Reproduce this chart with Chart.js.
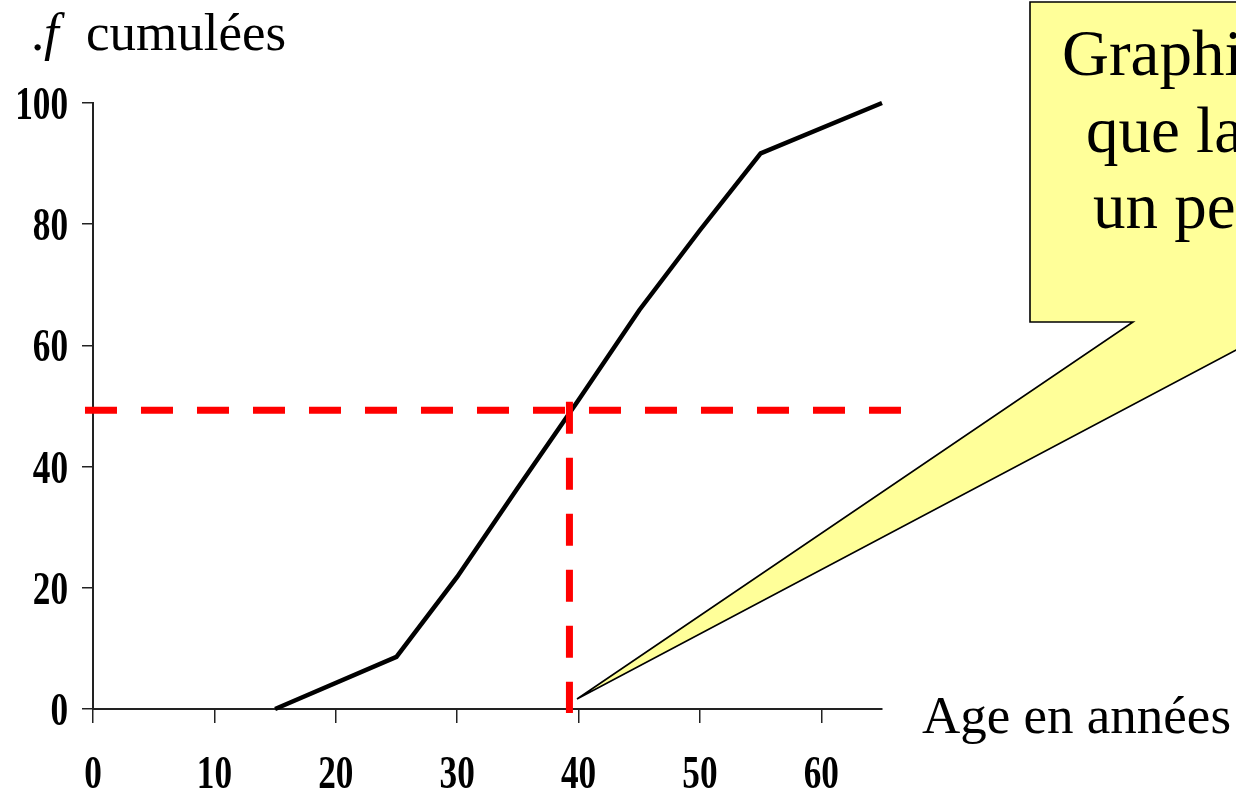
<!DOCTYPE html>
<html>
<head>
<meta charset="utf-8">
<script src="https://cdn.jsdelivr.net/npm/chart.js@4/dist/chart.umd.min.js"></script>
<style>
  html, body { margin: 0; padding: 0; background: #ffffff; }
  #wrap { width: 1236px; height: 789px; }
</style>
</head>
<body>
<div id="wrap"><canvas id="c" width="1236" height="789"></canvas></div>
<script>
// ---- Data ----
const ages = [15, 25, 30, 35, 40, 45, 50, 55, 65];
const cumFreq = [0, 8.6, 21.8, 36.5, 51, 65.8, 79, 91.7, 100];

// Median reading lines (dashed red)
const medianAge = 39.25;
const medianFreq = 49.3;
const hLineAges = [-0.66, 66.6];
const vLineFreqs = [50.7, -0.66];

// Tick labels
const xTicks = [0, 10, 20, 30, 40, 50, 60];
const yTicks = [0, 20, 40, 60, 80, 100];

// Texts
const yTitleDot = '.';
const yTitleF = 'f';
const yTitleRest = 'cumulées';
const xTitle = 'Age en années';
const calloutLines = ['Graphi', 'que la', 'un peu'];

const SERIF = '"Liberation Serif", "Times New Roman", serif';

const decorPlugin = {
  id: 'decor',
  afterDraw(chart) {
    const ctx = chart.ctx;
    const xs = chart.scales.x, ys = chart.scales.y;
    ctx.save();
    // tick labels (bold, condensed serif)
    ctx.fillStyle = '#000';
    ctx.font = 'bold 47px ' + SERIF;
    ctx.textAlign = 'center';
    ctx.textBaseline = 'alphabetic';
    xTicks.forEach(v => {
      const px = xs.getPixelForValue(v);
      ctx.save();
      ctx.translate(px, 788);
      ctx.scale(0.75, 1);
      ctx.fillText(String(v), 0, 0);
      ctx.restore();
    });
    ctx.textAlign = 'right';
    yTicks.forEach(v => {
      const py = ys.getPixelForValue(v);
      ctx.save();
      ctx.translate(68, py + 16);
      ctx.scale(0.75, 1);
      ctx.fillText(String(v), 0, 0);
      ctx.restore();
    });

    // axis titles
    ctx.textAlign = 'left';
    ctx.font = '53px ' + SERIF;
    ctx.fillText(yTitleDot, 31, 50);
    ctx.font = 'italic 53px ' + SERIF;
    ctx.fillText(yTitleF, 44, 50);
    ctx.font = '53px ' + SERIF;
    ctx.fillText(yTitleRest, 86, 50);
    ctx.fillText(xTitle, 922, 733);

    // callout
    ctx.beginPath();
    ctx.moveTo(1030, 2);
    ctx.lineTo(1030, 322);
    ctx.lineTo(1133, 322);
    ctx.lineTo(577, 699);
    ctx.lineTo(1236, 350);
    ctx.lineTo(1240, 350);
    ctx.lineTo(1240, 2);
    ctx.closePath();
    ctx.fillStyle = '#FFFF99';
    ctx.fill();
    ctx.lineWidth = 1.6;
    ctx.strokeStyle = '#000';
    ctx.lineJoin = 'miter';
    ctx.stroke();

    ctx.fillStyle = '#000';
    ctx.font = '65px ' + SERIF;
    ctx.fillText(calloutLines[0], 1062, 75);
    ctx.fillText(calloutLines[1], 1086, 152);
    ctx.fillText(calloutLines[2], 1093, 228);
    ctx.restore();
  }
};

new Chart(document.getElementById('c'), {
  type: 'line',
  data: {
    datasets: [
      {
        label: 'Fréquences cumulées',
        data: ages.map((a, i) => ({ x: a, y: cumFreq[i] })),
        borderColor: '#000000',
        borderWidth: 4.5,
        pointRadius: 0,
        tension: 0,
        fill: false,
        clip: false,
        order: 2
      },
      {
        label: 'Médiane (horizontale)',
        data: hLineAges.map(a => ({ x: a, y: medianFreq })),
        borderColor: '#FF0000',
        borderWidth: 7,
        borderDash: [32, 24],
        borderCapStyle: 'butt',
        pointRadius: 0,
        fill: false,
        clip: false,
        order: 0
      },
      {
        label: 'Médiane (verticale)',
        data: vLineFreqs.map(f => ({ x: medianAge, y: f })),
        borderColor: '#FF0000',
        borderWidth: 7,
        borderDash: [32, 24],
        borderCapStyle: 'butt',
        pointRadius: 0,
        fill: false,
        clip: false,
        order: 0
      }
    ]
  },
  options: {
    responsive: false,
    animation: false,
    devicePixelRatio: 1,
    layout: { padding: { top: 103, right: 354, left: 0, bottom: 0 } },
    plugins: { legend: { display: false }, tooltip: { enabled: false } },
    scales: {
      x: {
        type: 'linear',
        min: 0,
        max: 65,
        afterBuildTicks(scale) { scale.ticks = xTicks.map(v => ({ value: v })); },
        afterFit(scale) { scale.height = 80; },
        ticks: { display: false },
        grid: { display: true, drawOnChartArea: false, drawTicks: true, tickLength: 14, color: '#222', lineWidth: 1.5 },
        border: { display: true, color: '#222', width: 2 }
      },
      y: {
        type: 'linear',
        min: 0,
        max: 100,
        afterBuildTicks(scale) { scale.ticks = yTicks.map(v => ({ value: v })); },
        afterFit(scale) { scale.width = 93; },
        ticks: { display: false },
        grid: { display: true, drawOnChartArea: false, drawTicks: true, tickLength: 11, color: '#222', lineWidth: 1.5 },
        border: { display: true, color: '#222', width: 2 }
      }
    }
  },
  plugins: [decorPlugin]
});
</script>
</body>
</html>
